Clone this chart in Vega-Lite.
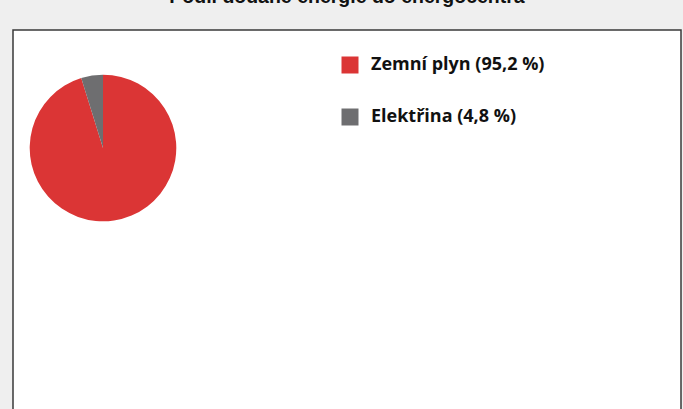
{
  "$schema": "https://vega.github.io/schema/vega-lite/v6.json",
  "autosize": {"type": "none"},
  "padding": {"left": 13, "top": 30, "right": 2, "bottom": 0},
  "width": 668,
  "height": 400,
  "background": "#efefef",
  "view": {"fill": "white", "stroke": "#3a3a3a", "strokeWidth": 1.5},
  "title": {
    "text": "Podíl dodané energie do energocentra",
    "font": "Liberation Sans",
    "fontSize": 19.5,
    "fontWeight": "bold",
    "color": "#111111",
    "anchor": "middle",
    "frame": "group",
    "baseline": "alphabetic",
    "offset": 8
  },
  "data": {
    "values": [
      {"zdroj": "Zemní plyn (95,2 %)", "podil": 95.2},
      {"zdroj": "Elektřina (4,8 %)", "podil": 4.8}
    ]
  },
  "mark": {"type": "arc", "x": 90, "y": 118, "outerRadius": 73.3, "stroke": null},
  "encoding": {
    "theta": {"field": "podil", "type": "quantitative", "stack": true},
    "order": {"field": "podil", "sort": "descending"},
    "color": {
      "field": "zdroj",
      "type": "nominal",
      "scale": {
        "domain": ["Zemní plyn (95,2 %)", "Elektřina (4,8 %)"],
        "range": ["#db3535", "#6e6e70"]
      },
      "legend": {
        "title": null,
        "orient": "none",
        "legendX": 328,
        "legendY": 26,
        "padding": 0,
        "symbolType": "square",
        "symbolSize": 289,
        "symbolStrokeWidth": 0,
        "labelFont": "Open Sans",
        "labelFontSize": 18,
        "labelFontWeight": "bold",
        "labelColor": "#111111",
        "labelOffset": 12,
        "rowPadding": 34,
        "labelLimit": 400
      }
    }
  }
}
